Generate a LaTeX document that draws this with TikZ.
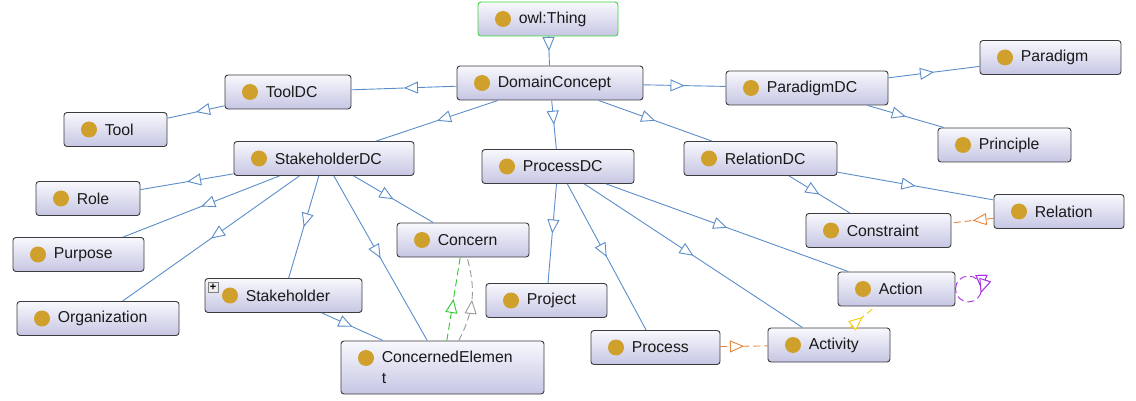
\documentclass[tikz,border=0pt]{standalone}
\usepackage{fontspec}
\setmainfont{Liberation Sans}
\usepackage{tikz}
\usetikzlibrary{
    arrows.meta,          % For the open triangle tips
    decorations.markings, % To put the tips halfway along an edge
    shadings              % For the gradient fills in the boxes
}
\definecolor{boxtop}{HTML}{F8F8FD}
\definecolor{boxbottom}{HTML}{C6C6E4}
\definecolor{boxborder}{HTML}{3C3C3C}
\definecolor{dotcolor}{HTML}{CFA02C}
\definecolor{textcolor}{HTML}{1A1A1A}
\definecolor{edgeblue}{HTML}{5B8DC9}
\definecolor{thinggreen}{HTML}{3CD83C}
\definecolor{linkgreen}{HTML}{2EC82E}
\definecolor{linkgray}{HTML}{9A9A9A}
\definecolor{linkorange}{HTML}{E8843A}
\definecolor{linkyellow}{HTML}{F2D000}
\definecolor{loopviolet}{HTML}{A82BE6}

\begin{document}
\begin{tikzpicture}[x=1pt, y=-1pt]

    % --- Style Definitions ---
    \tikzset{
        % the class boxes, with the gold dot on the left
        cls/.style={
            rectangle,
            rounded corners=3pt,
            draw=boxborder,
            line width=0.9pt,
            minimum height=34pt,
            inner sep=0pt,
            top color=boxtop,
            bottom color=boxbottom,
            path picture={\fill[dotcolor] ([shift={(25pt,-17pt)}]path picture bounding box.north west) circle (8pt);}
        },
        % the class names, left aligned after the dot
        clslabel/.style={
            anchor=west,
            xshift=41pt,
            inner sep=0pt,
            align=left,
            font=\fontsize{15.8}{21}\selectfont,
            text=textcolor
        },
        % open triangle halfway along an edge
        midtip/.style={
            postaction={decorate},
            decoration={markings, mark=at position #1 with
                {\arrow{Triangle[length=14pt, width=12pt, fill=white, line width=0.9pt]}}}
        },
        midtip/.default=0.5,
        isa/.style={edgeblue, line width=0.9pt, midtip},
        link/.style={line width=0.9pt, dash pattern=on 7pt off 4pt, midtip},
        plusbox/.style={
            draw=gray, fill=gray!15, minimum size=10pt, inner sep=0pt,
            font=\fontsize{11}{11}\selectfont\bfseries
        }
    }

    \useasboundingbox (0,0) rectangle (1136,401);

    % --- Node Placement ---
    \node[cls, draw=thinggreen, minimum width=140pt, label={[clslabel]west:owl:Thing}] (thing) at (548,19) {};
    \node[cls, minimum width=186pt, label={[clslabel]west:DomainConcept}] (domain) at (550,83) {};

    % left branch
    \node[cls, minimum width=126pt, label={[clslabel]west:ToolDC}] (tooldc) at (288,92) {};
    \node[cls, minimum width=103pt, label={[clslabel]west:Tool}] (tool) at (115.5,129.5) {};
    \node[cls, minimum width=180pt, label={[clslabel]west:StakeholderDC}] (stakeholderdc) at (324,158.5) {};
    \node[cls, minimum width=104pt, label={[clslabel]west:Role}] (role) at (88,198.5) {};
    \node[cls, minimum width=131pt, label={[clslabel]west:Purpose}] (purpose) at (78.5,254.5) {};
    \node[cls, minimum width=162pt, label={[clslabel]west:Organization}] (organization) at (98,318.5) {};
    \node[cls, minimum width=157pt, label={[clslabel]west:Stakeholder}] (stakeholder) at (283.5,295.5) {};
    \node[plusbox] (stakeholderplus) at ([shift={(8.5pt,-9.5pt)}]stakeholder.north west) {+};
    \node[cls, minimum width=132pt, label={[clslabel]west:Concern}] (concern) at (463,240) {};
    \node[cls, minimum width=203pt, minimum height=53pt, label={[clslabel]west:ConcernedElemen\\t}] (concerned) at (442.5,367.5) {};

    % middle branch
    \node[cls, minimum width=152pt, label={[clslabel]west:ProcessDC}] (processdc) at (558,166.5) {};
    \node[cls, minimum width=121pt, label={[clslabel]west:Project}] (project) at (546.5,300.5) {};
    \node[cls, minimum width=129pt, label={[clslabel]west:Process}] (process) at (655.5,347.5) {};
    \node[cls, minimum width=122pt, label={[clslabel]west:Activity}] (activity) at (829,345) {};
    \node[cls, minimum width=117pt, label={[clslabel]west:Action}] (action) at (896.5,289) {};

    % right branch
    \node[cls, minimum width=162pt, label={[clslabel]west:ParadigmDC}] (paradigmdc) at (807,88) {};
    \node[cls, minimum width=141pt, label={[clslabel]west:Paradigm}] (paradigm) at (1050.5,57.5) {};
    \node[cls, minimum width=133pt, label={[clslabel]west:Principle}] (principle) at (1004.5,145) {};
    \node[cls, minimum width=153pt, label={[clslabel]west:RelationDC}] (relationdc) at (760.5,158.5) {};
    \node[cls, minimum width=145pt, label={[clslabel]west:Constraint}] (constraint) at (878.5,230.5) {};
    \node[cls, minimum width=130pt, label={[clslabel]west:Relation}] (relation) at (1059,211.5) {};

    % --- Drawing Connections ---

    % 1. Subclass edges
    \draw[isa] (thing) -- (domain);
    \draw[isa] (domain) -- (tooldc);
    \draw[isa] (tooldc) -- (tool);
    \draw[isa] (domain) -- (paradigmdc);
    \draw[isa] (paradigmdc) -- (paradigm);
    \draw[isa] (paradigmdc) -- (principle);
    \draw[isa] (domain) -- (stakeholderdc);
    \draw[isa] (domain) -- (processdc);
    \draw[isa] (domain) -- (relationdc);
    \draw[isa] (stakeholderdc) -- (role);
    \draw[isa] (stakeholderdc) -- (purpose);
    \draw[isa] (stakeholderdc) -- (organization);
    \draw[isa] (stakeholderdc) -- (stakeholder);
    \draw[isa] (stakeholderdc) -- (concerned);
    \draw[isa] (stakeholderdc) -- (concern);
    \draw[isa] (stakeholder) -- (concerned);
    \draw[isa] (processdc) -- (project);
    \draw[isa] (processdc) -- (process);
    \draw[isa] (processdc) -- (activity);
    \draw[isa] (processdc) -- (action);
    \draw[isa] (relationdc) -- (constraint);
    \draw[isa] (relationdc) -- (relation);

    % 2. Dashed property links
    \draw[link, linkorange] (relation) -- (constraint);
    \draw[link, linkorange] (process) -- (activity);
    \draw[link, linkyellow] (activity) -- (action);
    \draw[link, linkgreen] (concerned) -- (concern);
    \draw[link, linkgray] (concerned) to[bend right=22] (concern);
    \draw[link, loopviolet, midtip=0.55] (action.east) arc[start angle=180, end angle=-180, radius=13pt];

\end{tikzpicture}
\end{document}
